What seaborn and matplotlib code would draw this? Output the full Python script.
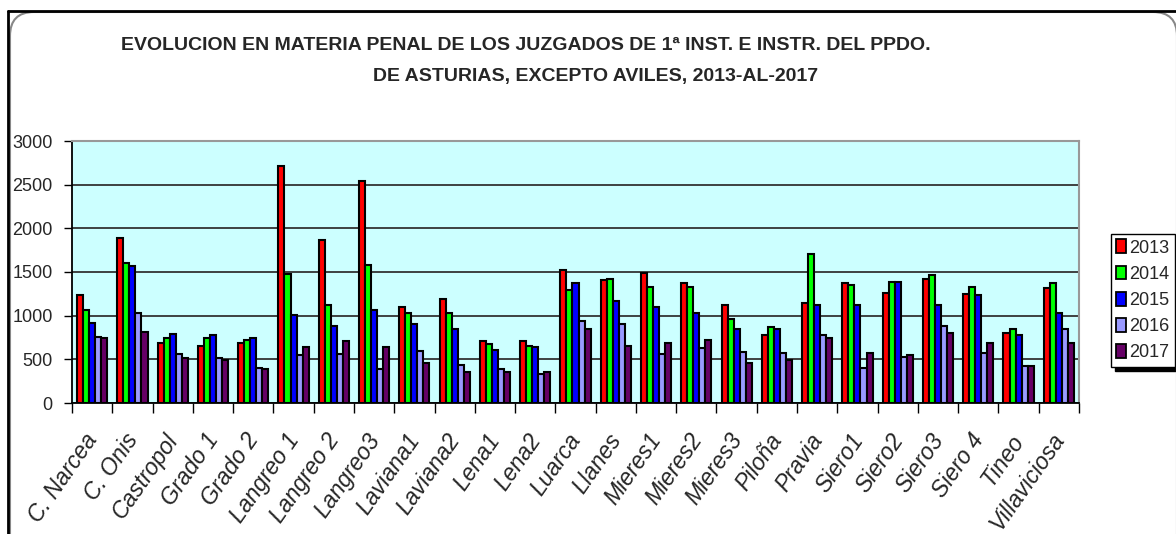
import pandas as pd
import seaborn as sns
import matplotlib.pyplot as plt
import matplotlib.transforms as mtransforms
from matplotlib.patches import FancyBboxPatch
from matplotlib.lines import Line2D

# datos
juzgados = ["C. Narcea", "C. Onis", "Castropol", "Grado 1", "Grado 2", "Langreo 1",
            "Langreo 2", "Langreo3", "Laviana1", "Laviana2", "Lena1", "Lena2", "Luarca",
            "Llanes", "Mieres1", "Mieres2", "Mieres3", "Piloña", "Pravia", "Siero1",
            "Siero2", "Siero3", "Siero 4", "Tineo", "Villaviciosa"]
anios = ["2013", "2014", "2015", "2016", "2017"]

v2013 = [1240, 1890, 690, 650, 690, 2710, 1870, 2540, 1100, 1190, 710, 710, 1520,
         1410, 1490, 1370, 1120, 780, 1150, 1370, 1260, 1420, 1250, 800, 1320]
v2014 = [1060, 1600, 740, 740, 720, 1480, 1120, 1580, 1030, 1030, 680, 650, 1290,
         1420, 1330, 1330, 960, 870, 1710, 1350, 1390, 1460, 1330, 850, 1370]
v2015 = [920, 1570, 790, 780, 740, 1010, 880, 1060, 900, 850, 610, 640, 1370,
         1170, 1100, 1030, 850, 850, 1120, 1120, 1390, 1120, 1240, 780, 1030]
v2016 = [760, 1030, 560, 520, 400, 550, 560, 390, 600, 440, 390, 330, 940,
         900, 560, 630, 580, 570, 780, 400, 530, 880, 570, 420, 850]
v2017 = [740, 810, 520, 490, 390, 640, 710, 640, 460, 360, 360, 350, 850,
         650, 690, 720, 460, 490, 740, 570, 550, 800, 690, 420, 690]

colores = ["#FF0000", "#00FF00", "#0000FF", "#9999FF", "#660066"]

df = pd.DataFrame({
    "juzgado": juzgados * 5,
    "anio": [a for a in anios for _ in juzgados],
    "valor": v2013 + v2014 + v2015 + v2016 + v2017,
})

sns.set_style("white")
plt.rcParams["font.family"] = ["Liberation Sans", "DejaVu Sans"]

fig = plt.figure(figsize=(11.76, 5.34), dpi=100)
ax = fig.add_axes([72 / 1176, 1 - 403 / 534, (1079 - 72) / 1176, (403 - 141) / 534])
ax.set_facecolor("#CCFFFF")

sns.barplot(data=df, x="juzgado", y="valor", hue="anio", palette=colores,
            width=0.75, edgecolor="black", linewidth=1.5, saturation=1,
            ax=ax, legend=True, zorder=3)

ax.set_ylim(0, 3000)
ax.set_xlim(-0.5, len(juzgados) - 0.5)
ax.set_yticks(range(0, 3001, 500))
ax.yaxis.grid(True, color="#333333", linewidth=1.3, zorder=0)
ax.set_axisbelow(True)
ax.set_xlabel("")
ax.set_ylabel("")

for s in ["top", "right"]:
    ax.spines[s].set_color("#999999")
    ax.spines[s].set_linewidth(1.5)
for s in ["left", "bottom"]:
    ax.spines[s].set_color("black")
    ax.spines[s].set_linewidth(1.3)

ax.tick_params(axis="y", direction="out", length=6, width=1, color="black", pad=8,
               left=True, labelsize=13)

ax.set_xticks(range(len(juzgados)))
ax.set_xticklabels(juzgados, rotation=55, ha="right", rotation_mode="anchor",
                   fontsize=16.5, fontstyle="italic")
ax.tick_params(axis="x", which="major", length=0, pad=19)
desplaza = mtransforms.ScaledTranslation(-6 / 72, 0, fig.dpi_scale_trans)
for t in ax.get_xticklabels():
    t.set_transform(t.get_transform() + desplaza)
ax.set_xticks([i - 0.5 for i in range(len(juzgados) + 1)], minor=True)
ax.tick_params(axis="x", which="minor", direction="out", length=7, width=1, color="black", bottom=True)

leg = ax.legend(loc="upper left", bbox_to_anchor=(1111 / 1176, 1 - 234 / 534),
                bbox_transform=fig.transFigure, frameon=True, fancybox=False,
                shadow={"color": "black", "alpha": 1, "shade": 1, "ox": 3, "oy": -3},
                handlelength=0.55, handleheight=0.8,
                handletextpad=0.15, borderpad=0.3, labelspacing=0.5, borderaxespad=0,
                prop={"size": 13})
leg.get_frame().set_edgecolor("black")
leg.get_frame().set_linewidth(1)
for h in leg.legend_handles:
    h.set_edgecolor("black")
    h.set_linewidth(1.3)

fig.text(526 / 1176, 1 - 45 / 534,
         "EVOLUCION EN MATERIA PENAL DE LOS JUZGADOS DE 1ª INST. E INSTR. DEL PPDO.",
         ha="center", va="center", fontsize=14, fontweight="bold")
fig.text(596 / 1176, 1 - 77 / 534, "DE ASTURIAS, EXCEPTO AVILES, 2013-AL-2017",
         ha="center", va="center", fontsize=14, fontweight="bold")

# marco redondeado del area del grafico
marco = FancyBboxPatch((10, -30), 1167, 534 - 12 + 30, boxstyle="round,pad=0,rounding_size=24",
                       transform=None, facecolor="none", edgecolor="#888888", linewidth=1.5)
fig.patches.append(marco)
fig.add_artist(Line2D([8 / 1176, 1], [1 - 11 / 534, 1 - 11 / 534], color="black", linewidth=2,
                      transform=fig.transFigure))
fig.add_artist(Line2D([8 / 1176, 8 / 1176], [0, 1 - 11 / 534], color="black", linewidth=2,
                      transform=fig.transFigure))

fig.savefig("out.png", dpi=100)
